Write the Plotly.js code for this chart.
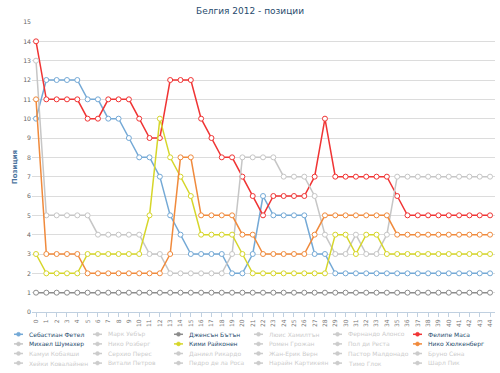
<!DOCTYPE html>
<html>
<head>
<meta charset="utf-8">
<script src="https://cdn.plot.ly/plotly-3.0.1.min.js"></script>
<style>html,body{margin:0;padding:0;background:#fff;}#chart{width:500px;height:373px;}</style>
</head>
<body>
<div id="chart"></div>
<script>
// ---- data ----
const laps = [0,1,2,3,4,5,6,7,8,9,10,11,12,13,14,15,16,17,18,19,20,21,22,23,24,25,26,27,28,29,30,31,32,33,34,35,36,37,38,39,40,41,42,43,44];
const yTicks = [0,1,2,3,4,5,6,7,8,9,10,11,12,13,14,15];

const vettel     = [10,12,12,12,12,11,11,10,10,9,8,8,7,5,4,3,3,3,3,2,2,3,6,5,5,5,5,3,3,2,2,2,2,2,2,2,2,2,2,2,2,2,2,2,2];
const button     = [1,1,1,1,1,1,1,1,1,1,1,1,1,1,1,1,1,1,1,1,1,1,1,1,1,1,1,1,1,1,1,1,1,1,1,1,1,1,1,1,1,1,1,1,1];
const massa      = [14,11,11,11,11,10,10,11,11,11,10,9,9,12,12,12,10,9,8,8,7,6,5,6,6,6,6,7,10,7,7,7,7,7,7,6,5,5,5,5,5,5,5,5,5];
const schumacher = [13,5,5,5,5,5,4,4,4,4,4,3,3,2,2,2,2,2,2,3,8,8,8,8,7,7,7,6,4,3,3,4,3,3,4,7,7,7,7,7,7,7,7,7,7];
const raikkonen  = [3,2,2,2,2,3,3,3,3,3,3,5,10,8,7,6,4,4,4,4,3,2,2,2,2,2,2,2,2,4,4,3,4,4,3,3,3,3,3,3,3,3,3,3,3];
const hulkenberg = [11,3,3,3,3,2,2,2,2,2,2,2,2,3,8,8,5,5,5,5,4,4,3,3,3,3,3,4,5,5,5,5,5,5,5,4,4,4,4,4,4,4,4,4,4];

const drivers = [
  "Себастиан Фетел","Марк Уебър","Дженсън Бътън","Люис Хамилтън","Фернандо Алонсо","Фелипе Маса",
  "Михаел Шумахер","Нико Розберг","Кими Райконен","Ромен Грожан","Пол ди Реста","Нико Хюлкенберг",
  "Камуи Кобаяши","Серхио Перес","Даниел Рикардо","Жан-Ерик Верн","Пастор Малдонадо","Бруно Сена",
  "Хейки Ковалайнен","Витали Петров","Педро де ла Роса","Нарайн Картикеян","Тимо Глок","Шарл Пик"
];
const shown = {
  "Себастиан Фетел": {y: vettel, color: "#74a9d6"},
  "Дженсън Бътън": {y: button, color: "#8c8c8c"},
  "Фелипе Маса": {y: massa, color: "#f03434"},
  "Михаел Шумахер": {y: schumacher, color: "#c6c6c6"},
  "Кими Райконен": {y: raikkonen, color: "#d6d62a"},
  "Нико Хюлкенберг": {y: hulkenberg, color: "#f08a3c"}
};

// ---- layout geometry ----
const W = 500, H = 373;
const M = {l: 32, r: 5, t: 22, b: 61};
const PW = W - M.l - M.r, PH = H - M.t - M.b;
const px2x = px => (px - M.l) / PW;
const py2y = py => (H - M.b - py) / PH;

const font = "DejaVu Sans, Verdana, sans-serif";

const traces = [];
drivers.forEach(name => {
  const s = shown[name];
  if (!s) return;
  traces.push({
    type: "scatter", mode: "lines+markers", name: name,
    x: laps, y: s.y,
    line: {color: s.color, width: 1.5},
    marker: {symbol: "circle", size: 5, color: "#ffffff", line: {color: s.color, width: 1}},
    cliponaxis: false,
    showlegend: false,
    hoverinfo: "x+y+name"
  });
});

// custom legend (Highcharts-like)
const colText = [27, 106, 187, 267, 346, 426];
const rowY = [334.3, 343.9, 353.5, 363.1];
const annotations = [];
const shapes = [];
drivers.forEach((name, i) => {
  const c = i % 6, r = Math.floor(i / 6);
  const s = shown[name];
  const tx = colText[c], ty = rowY[r];
  annotations.push({
    xref: "paper", yref: "paper", x: px2x(tx), y: py2y(ty),
    xanchor: "left", yanchor: "middle", showarrow: false,
    text: name, font: {family: font, size: 6.0, color: s ? "#274b6d" : "#cccccc"}
  });
  const col = s ? s.color : "#cccccc";
  const cx = px2x(tx - 8.5), cy = py2y(ty);
  shapes.push({type: "line", xref: "paper", yref: "paper", xsizemode: "pixel", ysizemode: "pixel",
    xanchor: cx, yanchor: cy, x0: -4.5, x1: 4.5, y0: 0, y1: 0, line: {color: col, width: 1.5}});
  shapes.push({type: "circle", xref: "paper", yref: "paper", xsizemode: "pixel", ysizemode: "pixel",
    xanchor: cx, yanchor: cy, x0: -2, x1: 2, y0: -2, y1: 2, fillcolor: col, line: {color: col, width: 0.5}});
});

const layout = {
  width: W, height: H,
  margin: M,
  paper_bgcolor: "#ffffff", plot_bgcolor: "#ffffff",
  font: {family: font, size: 6.2, color: "#666666"},
  title: {text: "Белгия 2012 - позиции", font: {family: font, size: 9, color: "#274b6d"},
          x: 0.5, xref: "container", xanchor: "center", y: 1 - 10.8 / H, yref: "container", yanchor: "middle"},
  showlegend: false,
  xaxis: {
    range: [-0.39, 44.48], tickmode: "array", tickvals: laps, ticktext: laps.map(String),
    tickangle: -90, showgrid: false, zeroline: false,
    showline: true, linecolor: "#c0d0e0", linewidth: 1,
    ticks: "outside", ticklen: 4, tickcolor: "#c0d0e0", tickwidth: 1,
    tickfont: {family: font, size: 6.0, color: "#777777"}, fixedrange: true
  },
  yaxis: {
    range: [0, 15], tickmode: "array", tickvals: yTicks, ticktext: yTicks.map(String),
    showgrid: true, gridcolor: "#dcdcdc", gridwidth: 1, zeroline: false, showline: false, ticks: "",
    tickfont: {family: font, size: 6.2, color: "#666666"},
    title: {text: "<b>Позиция</b>", font: {family: font, size: 7, color: "#4d759e"}, standoff: 4},
    fixedrange: true
  },
  annotations: annotations,
  shapes: shapes
};

Plotly.newPlot("chart", traces, layout, {displayModeBar: false, staticPlot: true});
</script>
</body>
</html>
